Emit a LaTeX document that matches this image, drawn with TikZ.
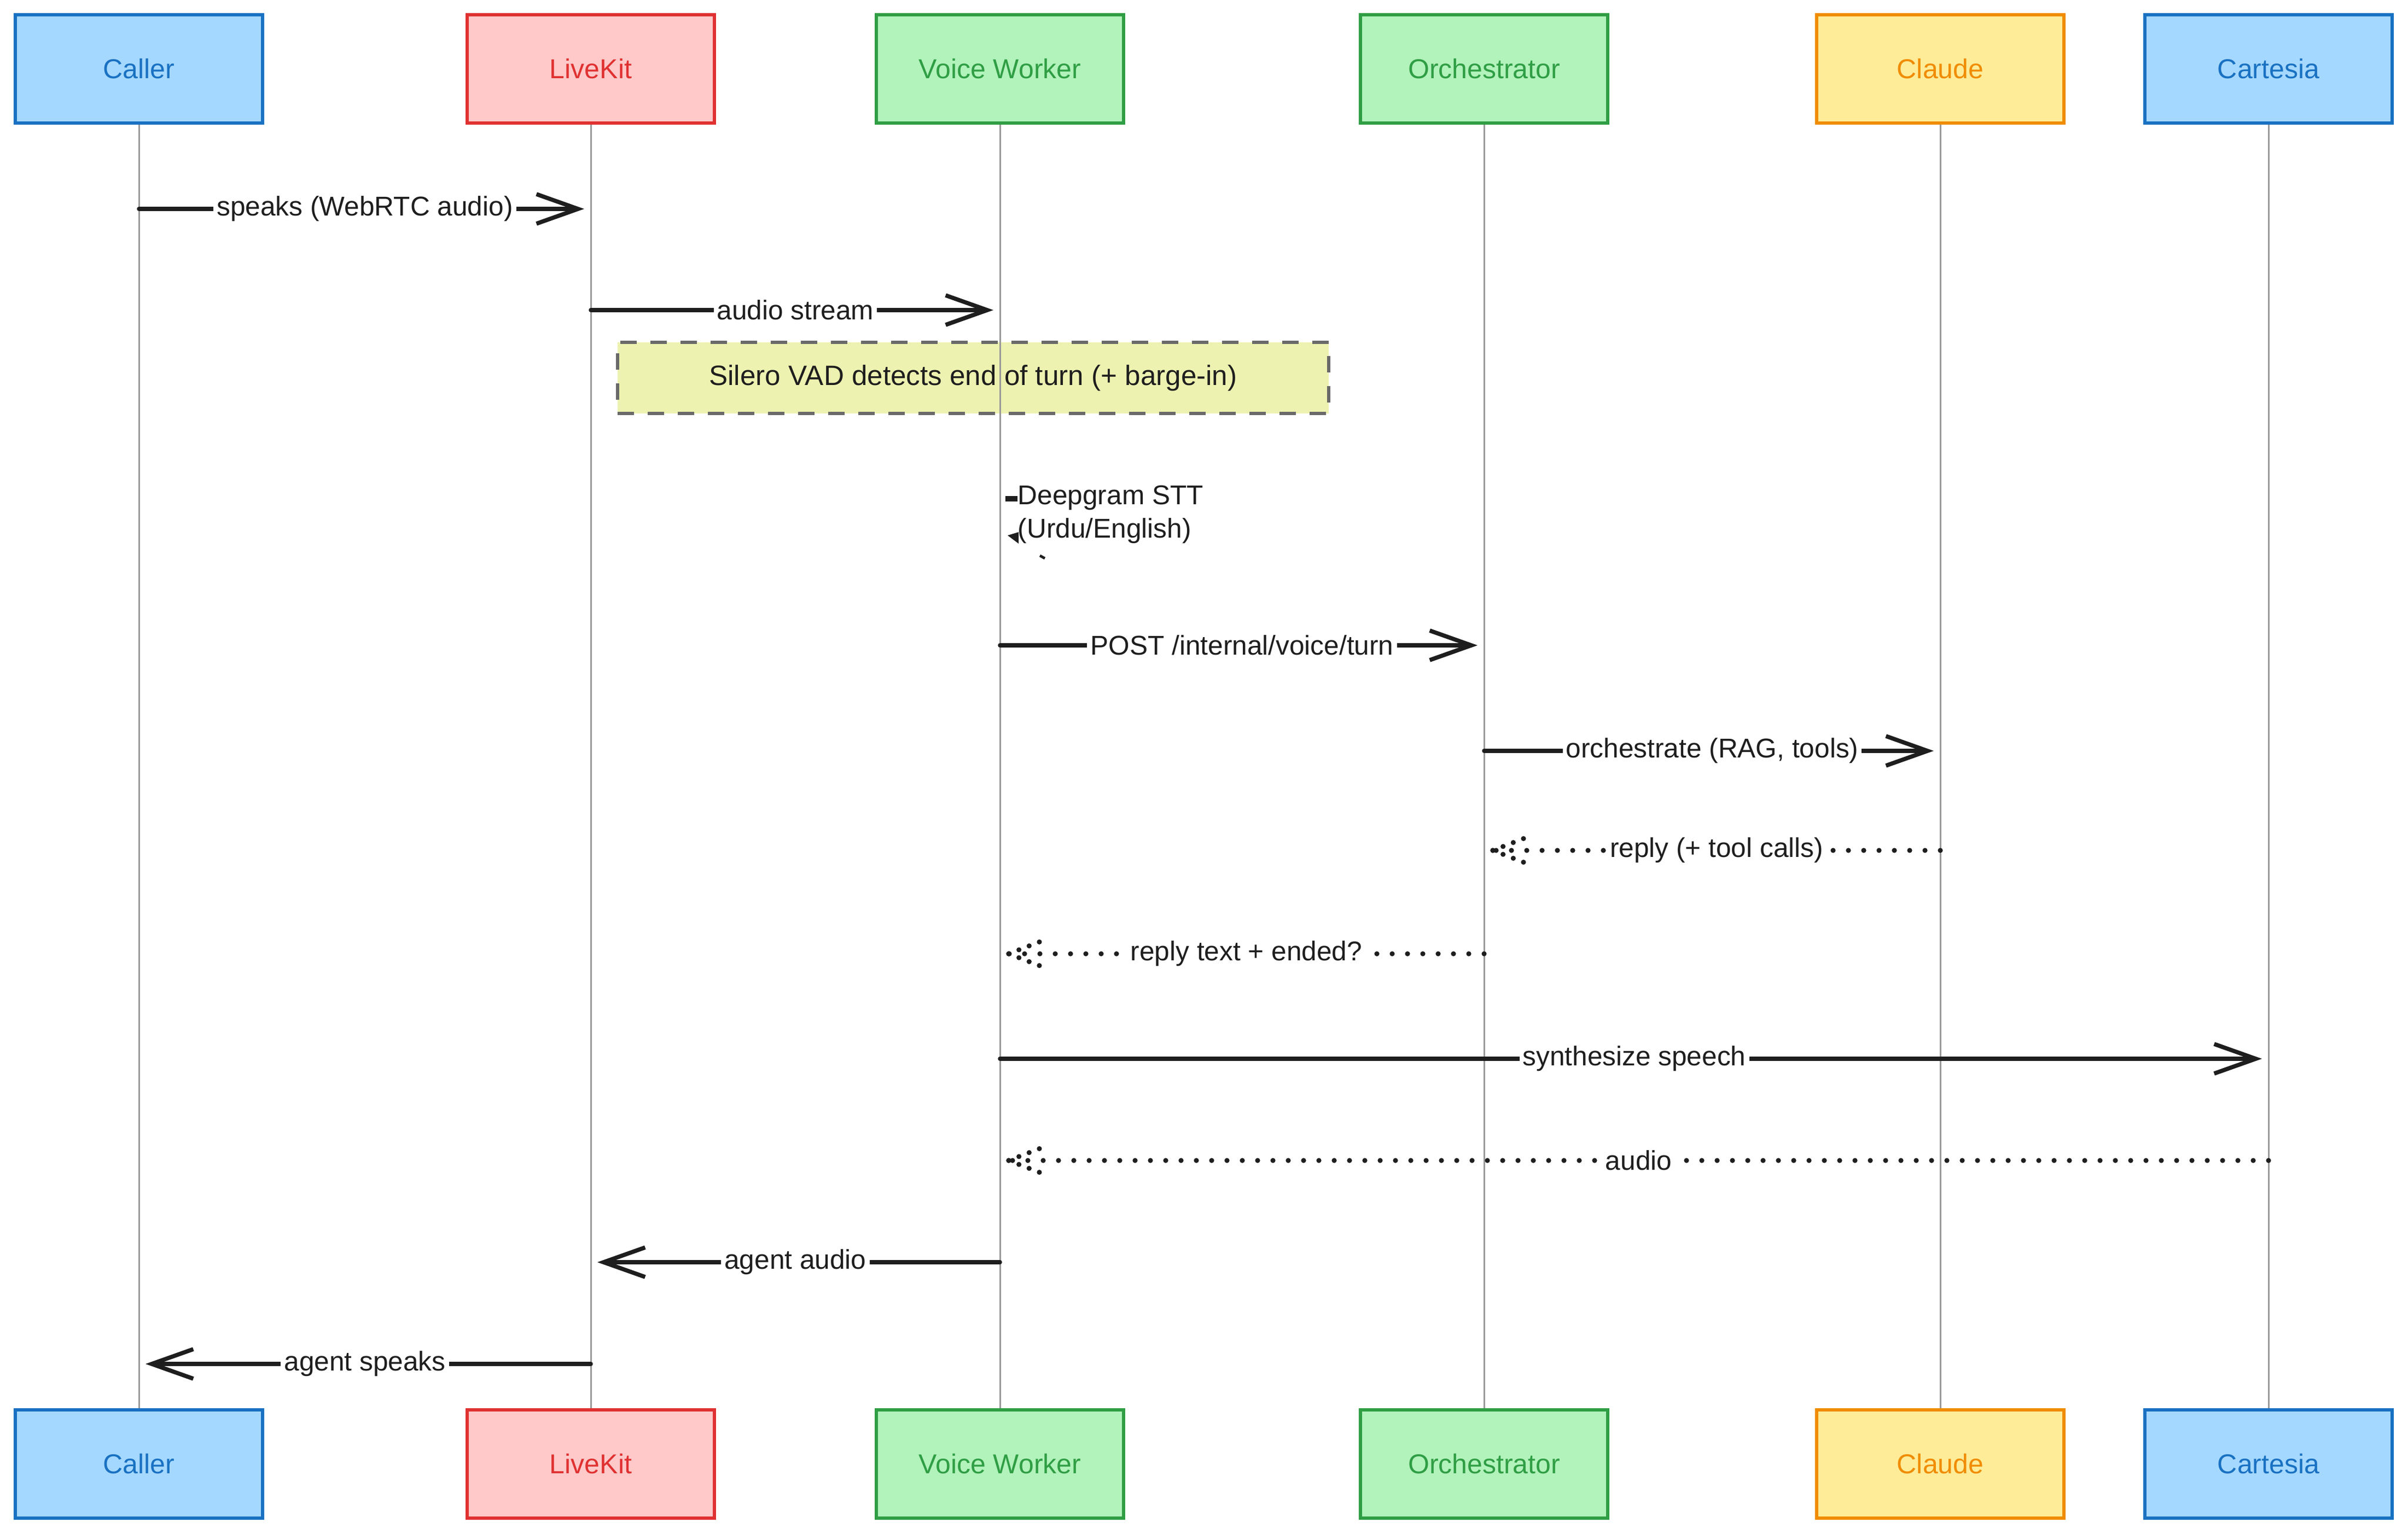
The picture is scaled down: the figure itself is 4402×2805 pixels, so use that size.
\documentclass[tikz,border=0pt]{standalone}
\usepackage{fontspec}
\setmainfont{Liberation Sans}
\usetikzlibrary{arrows.meta,calc}
\definecolor{ink}{HTML}{1E1E1E}
\definecolor{bluefill}{HTML}{A5D8FF}
\definecolor{bluedraw}{HTML}{1971C2}
\definecolor{redfill}{HTML}{FFC9C9}
\definecolor{reddraw}{HTML}{E03131}
\definecolor{greenfill}{HTML}{B2F2BB}
\definecolor{greendraw}{HTML}{2F9E44}
\definecolor{yellowfill}{HTML}{FFEC99}
\definecolor{yellowdraw}{HTML}{F08C00}
\definecolor{notefill}{HTML}{EDF2B0}
\definecolor{notedraw}{HTML}{696969}
\definecolor{lifegray}{HTML}{9A9A9A}
\begin{document}
\begin{tikzpicture}[x=0.25pt,y=-0.25pt,
  part/.style={draw, line width=1.7pt, minimum width=113pt, minimum height=49.5pt,
    inner sep=0pt, font=\fontsize{12.5}{15}\selectfont},
  bluep/.style={part, fill=bluefill, draw=bluedraw, text=bluedraw},
  redp/.style={part, fill=redfill, draw=reddraw, text=reddraw},
  greenp/.style={part, fill=greenfill, draw=greendraw, text=greendraw},
  yellowp/.style={part, fill=yellowfill, draw=yellowdraw, text=yellowdraw},
  life/.style={draw=lifegray, line width=0.75pt},
  msg/.style={draw=ink, line width=1.9pt, line cap=round,
    -{Straight Barb[length=19pt,width=13.5pt]}, shorten >=3pt},
  ret/.style={draw=ink, line width=2.3pt, line cap=round, dash pattern=on 0pt off 7pt},
  barb/.style={draw=ink, line width=2.3pt, line cap=round, dash pattern=on 0pt off 5pt},
  lbl/.style={fill=white, inner sep=1.5pt, text=ink, font=\fontsize{12.4}{15}\selectfont},
  notebox/.style={draw=notedraw, fill=notefill, line width=1.5pt, dash pattern=on 7.5pt off 6.25pt,
    minimum width=325pt, minimum height=32.5pt, inner sep=0pt, text=ink,
    font=\fontsize{12.8}{15}\selectfont}
]
\useasboundingbox (0,0) rectangle (4402,2805);
\fill[white] (0,0) rectangle (4402,2805);

% participants (top)
\node[bluep]   (caller)  at (254,126)  {Caller};
\node[redp]    (livekit) at (1080,126) {LiveKit};
\node[greenp]  (voice)   at (1828,126) {Voice Worker};
\node[greenp]  (orch)    at (2713,126) {Orchestrator};
\node[yellowp] (claude)  at (3547,126) {Claude};
\node[bluep]   (cart)    at (4147,126) {Cartesia};
% participants (bottom)
\node[bluep]   (callerB)  at (254,2677)  {Caller};
\node[redp]    (livekitB) at (1080,2677) {LiveKit};
\node[greenp]  (voiceB)   at (1828,2677) {Voice Worker};
\node[greenp]  (orchB)    at (2713,2677) {Orchestrator};
\node[yellowp] (claudeB)  at (3547,2677) {Claude};
\node[bluep]   (cartB)    at (4147,2677) {Cartesia};

% note
\node[notebox] (vad) at (1779,691) {Silero VAD detects end of turn (+ barge-in)};

% lifelines
\draw[life] (caller.south)  -- (callerB.north);
\draw[life] (livekit.south) -- (livekitB.north);
\draw[life] (voice.south)   -- (voiceB.north);
\draw[life] (orch.south)    -- (orchB.north);
\draw[life] (claude.south)  -- (claudeB.north);
\draw[life] (cart.south)    -- (cartB.north);

% message rows
\coordinate (y1) at (0,382);
\coordinate (y2) at (0,567);
\coordinate (y4) at (0,912);
\coordinate (y5) at (0,1180);
\coordinate (y6) at (0,1373);
\coordinate (y7) at (0,1555);
\coordinate (y8) at (0,1744);
\coordinate (y9) at (0,1936);
\coordinate (y10) at (0,2122);
\coordinate (y11) at (0,2308);
\coordinate (y12) at (0,2494);

\draw[msg] (caller |- y1) -- node[lbl]{speaks (WebRTC audio)} (livekit |- y1);
\draw[msg] (livekit |- y2) -- node[lbl]{audio stream} (voice |- y2);

% self message (Deepgram)
\node[anchor=west, align=left, inner sep=0pt, text=ink,
  font=\fontsize{12.4}{15.3}\selectfont] (stt) at (1860,941) {Deepgram STT\\(Urdu/English)};
\draw[draw=ink, line width=2.6pt] (voice |- y4) ++(10,0) -- (stt.west |- y4);
\fill[ink] (1842,979) -- (1862,973) -- (1862,994) -- cycle;
\draw[ink, line width=1.2pt] (1901,1016) -- (1910,1021);

\draw[msg] (voice |- y5) -- node[lbl]{POST /internal/voice/turn} (orch |- y5);
\draw[msg] (orch |- y6) -- node[lbl]{orchestrate (RAG, tools)} (claude |- y6);

% reply (+ tool calls)
\coordinate (t7) at ($(orch |- y7)+(16,0)$);
\draw[ret] (claude |- y7) -- node[lbl]{reply (+ tool calls)} (t7);
\draw[barb] (t7) -- ++(70,-27);
\draw[barb] (t7) -- ++(70,27);

% reply text + ended?
\coordinate (t8) at ($(voice |- y8)+(16,0)$);
\draw[ret] (orch |- y8) -- node[lbl]{reply text + ended?} (t8);
\draw[barb] (t8) -- ++(70,-27);
\draw[barb] (t8) -- ++(70,27);

\draw[msg] (voice |- y9) -- node[lbl]{synthesize speech} (cart |- y9);

% audio
\coordinate (t10) at ($(voice |- y10)+(16,0)$);
\draw[ret] (cart |- y10) -- node[lbl]{audio} (t10);
\draw[barb] (t10) -- ++(70,-27);
\draw[barb] (t10) -- ++(70,27);

\draw[msg] (voice |- y11) -- node[lbl]{agent audio} (livekit |- y11);
\draw[msg] (livekit |- y12) -- node[lbl]{agent speaks} (caller |- y12);
\end{tikzpicture}
\end{document}
